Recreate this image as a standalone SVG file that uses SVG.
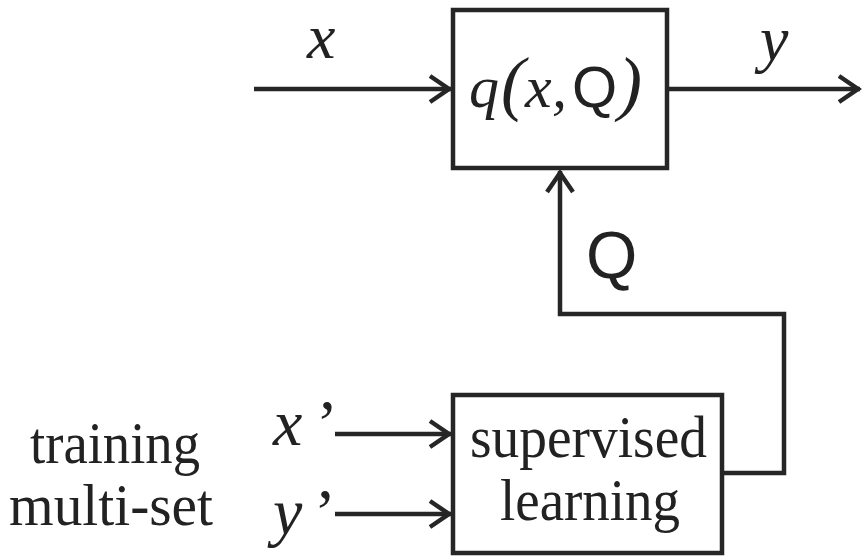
<svg xmlns="http://www.w3.org/2000/svg" width="862" height="558" viewBox="0 0 862 558">
<style>
.box{fill:#fff;stroke:#262626;stroke-width:4.5}
.wire{fill:none;stroke:#262626;stroke-width:4.5}
text{fill:#222}
.serif{font-family:'Liberation Serif','Times New Roman',Times,serif}
.it{font-style:italic}
.sans{font-family:'Liberation Sans',Arial,Helvetica,sans-serif;font-style:normal}
</style>
<defs>
<marker id="arr" markerUnits="userSpaceOnUse" markerWidth="30" markerHeight="34" refX="24" refY="15" orient="auto" viewBox="0 0 30 30" overflow="visible">
<path d="M3,2 L22,15 L3,28" fill="none" stroke="#262626" stroke-width="4.5"/>
</marker>
</defs>
<g id="connectors">
<line class="wire" x1="254" y1="89" x2="451" y2="89" marker-end="url(#arr)"/>
<line class="wire" x1="667" y1="89" x2="860" y2="89" marker-end="url(#arr)"/>
<polyline class="wire" points="722,473 784,473 784,314 560,314 560,171" marker-end="url(#arr)"/>
<line class="wire" x1="335" y1="434" x2="451" y2="434" marker-end="url(#arr)"/>
<line class="wire" x1="335" y1="514" x2="451" y2="514" marker-end="url(#arr)"/>
</g>
<g id="model">
<rect class="box" x="453" y="10" width="214" height="158"/>
<text class="serif it" y="107" font-size="60"><tspan x="469">q</tspan><tspan x="501" font-size="72">(</tspan><tspan x="525">x</tspan><tspan x="552">,</tspan><tspan x="572" class="sans" font-size="58">Q</tspan><tspan x="618" font-size="72">)</tspan></text>
</g>
<g id="learner">
<rect class="box" x="453" y="395" width="269" height="158"/>
<text class="serif" x="470" y="457" font-size="60" textLength="237" lengthAdjust="spacingAndGlyphs">supervised</text>
<text class="serif" x="500" y="520" font-size="60" textLength="180" lengthAdjust="spacingAndGlyphs">learning</text>
</g>
<g id="labels">
<text class="serif it" x="307" y="58" font-size="64">x</text>
<text class="serif it" x="760" y="60" font-size="64">y</text>
<text class="sans" x="586" y="278" font-size="66">Q</text>
<text class="serif it" x="273" y="445" font-size="66">x</text>
<text class="serif" x="316" y="445" font-size="66">’</text>
<text class="serif it" x="273" y="534" font-size="66">y</text>
<text class="serif" x="314" y="534" font-size="66">’</text>
<text class="serif" x="30" y="463" font-size="60" textLength="170" lengthAdjust="spacingAndGlyphs">training</text>
<text class="serif" x="9" y="525" font-size="60" textLength="204" lengthAdjust="spacingAndGlyphs">multi-set</text>
</g>
</svg>
